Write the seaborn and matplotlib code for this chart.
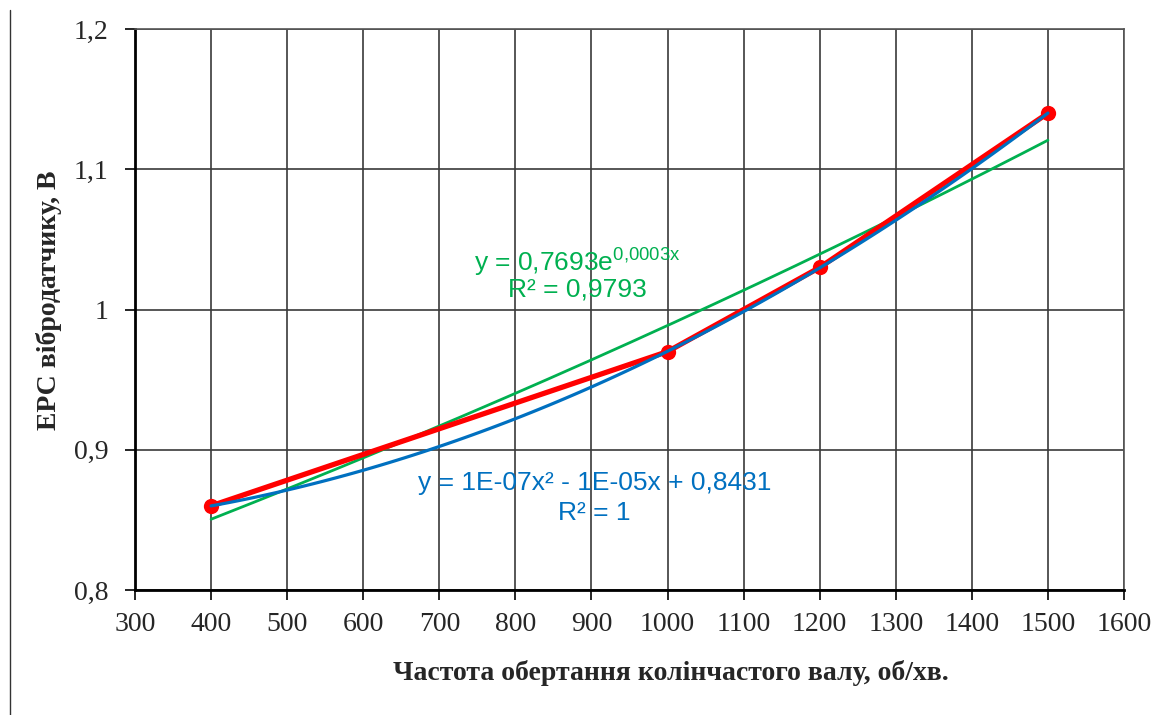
import numpy as np
import pandas as pd
import matplotlib
matplotlib.use("Agg")
import matplotlib.pyplot as plt
import seaborn as sns
from matplotlib.lines import Line2D

# Дані
rpm = [400, 1000, 1200, 1500]
emf = [0.86, 0.97, 1.03, 1.14]
x_ticks = [300, 400, 500, 600, 700, 800, 900, 1000, 1100, 1200, 1300, 1400, 1500, 1600]
y_ticks = [0.8, 0.9, 1.0, 1.1, 1.2]
y_tick_labels = ["0,8", "0,9", "1", "1,1", "1,2"]
exp_label = ["y = 0,7693e$^{\\mathrm{0{,}0003x}}$", "R² = 0,9793"]
poly_label = ["y = 1E-07x² - 1E-05x + 0,8431", "R² = 1"]

df = pd.DataFrame({"rpm": rpm, "emf": emf})

sns.set_style("white")
plt.rcParams["font.family"] = ["Liberation Serif", "DejaVu Serif"]
plt.rcParams["mathtext.fontset"] = "custom"
plt.rcParams["mathtext.rm"] = "Liberation Sans"

fig, ax = plt.subplots(figsize=(11.66, 7.15), dpi=100)
fig.subplots_adjust(left=0.1158, right=0.964, top=0.9594, bottom=0.1748)

# Поліноміальний тренд (2-й порядок)
sns.regplot(data=df, x="rpm", y="emf", order=2, ci=None, scatter=False, truncate=True,
            line_kws={"color": "#0070C0", "lw": 2.3, "zorder": 4}, ax=ax)

# Експоненціальний тренд
b, ln_a = np.polyfit(df["rpm"], np.log(df["emf"]), 1)
xs = np.linspace(min(rpm), max(rpm), 200)
ax.plot(xs, np.exp(ln_a) * np.exp(b * xs), color="#00B050", lw=2.0, zorder=3)

# Експериментальні дані
sns.lineplot(data=df, x="rpm", y="emf", color="#FF0000", lw=3.8, marker="o",
             markersize=11, markeredgewidth=0, zorder=5, ax=ax)
# синя лінія поверх червоної
ax.lines[0].set_zorder(6)

ax.set_xlim(300, 1600)
ax.set_ylim(0.8, 1.2)
ax.set_xticks(x_ticks)
ax.set_xticklabels([str(t) for t in x_ticks])
ax.set_yticks(y_ticks)
ax.set_yticklabels(y_tick_labels)
ax.tick_params(axis="both", labelsize=20, direction="out", length=7, width=1.2,
               color="black", bottom=True, left=True)
ax.tick_params(axis="y", pad=12)
ax.tick_params(axis="x", pad=9)

ax.grid(True, color="#3a3a3a", lw=1.2)
ax.set_axisbelow(True)
for s in ["top", "right"]:
    ax.spines[s].set_color("#555555")
    ax.spines[s].set_linewidth(1.2)
for s in ["left", "bottom"]:
    ax.spines[s].set_color("black")
    ax.spines[s].set_linewidth(2.0)

ax.set_xlabel("Частота обертання колінчастого валу, об/хв.", fontsize=20, fontweight="bold")
ax.set_ylabel("ЕРС вібродатчику, В", fontsize=20, fontweight="bold")
ax.xaxis.set_label_coords(0.542, -0.124)
ax.yaxis.set_label_coords(-0.074, 0.517)

# Рівняння трендів
sans = ["Liberation Sans", "DejaVu Sans"]
ax.text(881, 1.034, exp_label[0], color="#00B050", fontsize=19, ha="center", va="center", family=sans)
ax.text(881, 1.0145, exp_label[1], color="#00B050", fontsize=19, ha="center", va="center", family=sans)
ax.text(904, 0.8765, poly_label[0], color="#0070C0", fontsize=19, ha="center", va="center", family=sans)
ax.text(904, 0.855, poly_label[1], color="#0070C0", fontsize=19, ha="center", va="center", family=sans)

# рамка зліва
fig.add_artist(Line2D([10 / 1166, 10 / 1166], [0, 1 - 10 / 715], transform=fig.transFigure,
                      color="#333333", lw=1.0))

plt.savefig("out.png", dpi=100)
